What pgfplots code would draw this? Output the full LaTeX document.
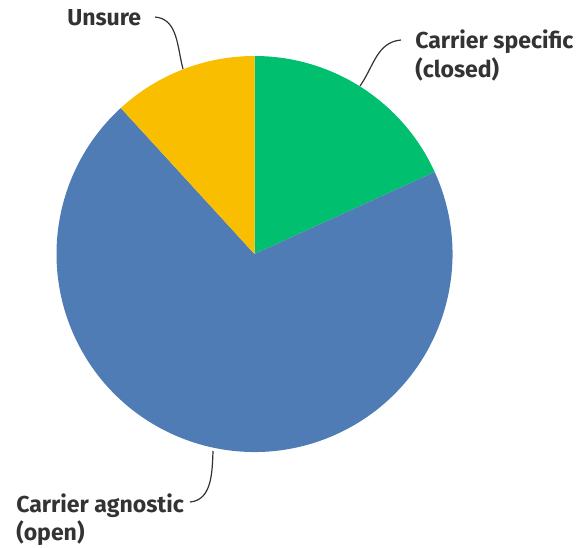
\documentclass[border=0pt]{standalone}
\usepackage{pgfplots}
\pgfplotsset{compat=1.18}
\usepackage{fontspec}
\setmainfont{Fira Sans}
\definecolor{smgreen}{HTML}{00BF6F}
\definecolor{smblue}{HTML}{507CB6}
\definecolor{smyellow}{HTML}{F9BE00}
\definecolor{txt}{HTML}{333333}
% shares (percent), clockwise from 12 o'clock
\def\pGreen{18.2}
\def\pBlue{70.0}
\def\pYellow{11.8}
\begin{document}
\begin{tikzpicture}
\begin{axis}[
  width=435.75pt, height=410.25pt, scale only axis,
  xmin=0, xmax=581, ymin=0, ymax=547,
  hide axis, clip=false,
]
\coordinate (ll) at (axis cs:0,0);
\coordinate (ur) at (axis cs:581,547);
\pgfmathsetmacro{\aA}{90}
\pgfmathsetmacro{\aB}{90-3.6*\pGreen}
\pgfmathsetmacro{\aC}{\aB-3.6*\pBlue}
\pgfmathsetmacro{\aD}{\aC-3.6*\pYellow}
\fill[smgreen] (axis cs:254.5,293) -- ++(\aA:148.5pt) arc[start angle=\aA, end angle=\aB, radius=148.5pt] -- cycle;
\fill[smblue] (axis cs:254.5,293) -- ++(\aB:148.5pt) arc[start angle=\aB, end angle=\aC, radius=148.5pt] -- cycle;
\fill[smyellow] (axis cs:254.5,293) -- ++(\aC:148.5pt) arc[start angle=\aC, end angle=\aD, radius=148.5pt] -- cycle;
% leader lines
\draw[txt, line width=0.9pt] (axis cs:155,530) to[out=-5, in=105] (axis cs:183,478);
\draw[txt, line width=0.9pt] (axis cs:401,507) to[out=185, in=55] (axis cs:360,461);
\draw[txt, line width=0.9pt] (axis cs:213,96) to[out=-92, in=5] (axis cs:190,45);
% labels
\node[anchor=base west, inner sep=0pt, font=\bfseries\fontsize{17.3}{20}\selectfont, text=txt] at (axis cs:67,521) {Unsure};
\node[anchor=base west, inner sep=0pt, font=\bfseries\fontsize{17.3}{20}\selectfont, text=txt] at (axis cs:415,498) {Carrier specific};
\node[anchor=base west, inner sep=0pt, font=\bfseries\fontsize{17.3}{20}\selectfont, text=txt] at (axis cs:415,469) {(closed)};
\node[anchor=base west, inner sep=0pt, font=\bfseries\fontsize{17.3}{20}\selectfont, text=txt] at (axis cs:16,35) {Carrier agnostic};
\node[anchor=base west, inner sep=0pt, font=\bfseries\fontsize{17.3}{20}\selectfont, text=txt] at (axis cs:16,7) {(open)};
\end{axis}
\pgfresetboundingbox
\path[use as bounding box] (ll) rectangle (ur);
\end{tikzpicture}
\end{document}
